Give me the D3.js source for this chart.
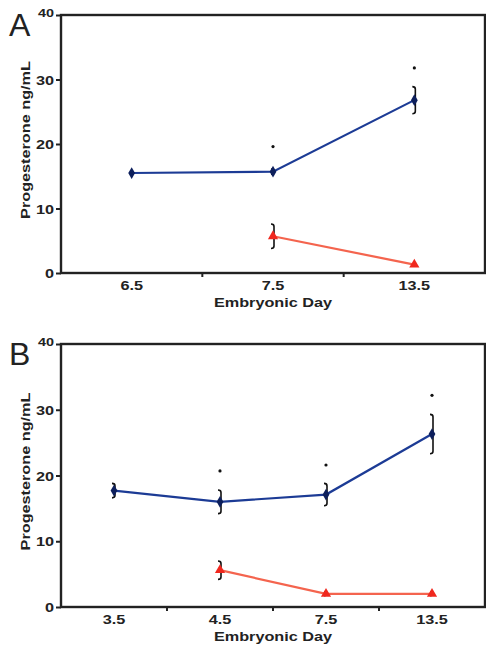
<!DOCTYPE html>
<html>
<head>
<meta charset="utf-8">
<script src="https://cdn.jsdelivr.net/npm/d3@7"></script>
<style>
  body { margin: 0; background: #fff; }
  svg { display: block; font-family: "Liberation Sans", Arial, sans-serif; }
</style>
</head>
<body>
<svg id="chart" width="486" height="648"></svg>
<script>
// Panel A
const daysA = ["6.5", "7.5", "13.5"];
const blueA = [15.5, 15.7, 26.8];
const blueErrA = [0, 0.4, 2.1];
const redA = [null, 5.7, 1.3];
const redErrA = [0, 1.9, 0];
const starsA = [null, 19.6, 31.8];

// Panel B
const daysB = ["3.5", "4.5", "7.5", "13.5"];
const blueB = [17.7, 16.0, 17.1, 26.3];
const blueErrB = [1.1, 1.8, 1.7, 3.0];
const redB = [null, 5.6, 2.0, 2.0];
const redErrB = [0, 1.4, 0.3, 0.3];
const starsB = [null, 20.7, 21.6, 32.2];

const yTicks = [0, 10, 20, 30, 40];

const svg = d3.select("#chart");
const SX = 1.25; // the original lettering is a bit wide

// bold label, stretched horizontally around its anchor
function label(g, x, y, txt, anchor, size, rot) {
  return g.append("text")
    .attr("transform", `translate(${x},${y})${rot ? " rotate(" + rot + ")" : ""} scale(${SX},1)`)
    .attr("text-anchor", anchor)
    .attr("font-size", size || 13)
    .attr("font-weight", "bold")
    .attr("fill", "#222")
    .text(txt);
}

function drawPanel(opts) {
  const { letter, days, blue, blueErr, red, redErr, stars, top, bottom } = opts;
  const left = 61, right = 485;

  const x = d3.scaleBand().domain(days).range([left, right]);
  const y = d3.scaleLinear().domain([0, 40]).range([bottom, top]);
  const cx = d => x(d) + x.bandwidth() / 2;

  const g = svg.append("g");

  // frame
  g.append("rect")
    .attr("x", left).attr("y", top)
    .attr("width", right - left).attr("height", bottom - top)
    .attr("fill", "none").attr("stroke", "#222").attr("stroke-width", 2.4);

  // y axis ticks + labels
  const yAxis = g.append("g")
    .attr("transform", `translate(${left},0)`)
    .call(d3.axisLeft(y).tickValues(yTicks).tickSize(5).tickFormat(""));
  yAxis.select(".domain").remove();
  yAxis.selectAll("line").attr("stroke", "#222").attr("stroke-width", 2);
  yTicks.forEach(t => {
    label(g, left - 7, y(t) + (t === 40 ? 2 : 5), t, "end", t === 40 ? 11.5 : 13);
  });

  // x axis: ticks at category boundaries, labels at centres
  const bounds = days.slice(1).map(d => x(d));
  g.selectAll(".xtick").data(bounds).join("line")
    .attr("x1", d => d).attr("x2", d => d)
    .attr("y1", bottom).attr("y2", bottom + 4)
    .attr("stroke", "#222").attr("stroke-width", 2);
  days.forEach(d => label(g, cx(d), bottom + 17, d, "middle", 13));

  label(g, (left + right) / 2, bottom + 34, "Embryonic Day", "middle", 13);
  label(g, 30, (top + bottom) / 2 - 4, "Progesterone ng/mL", "middle", 13, -90);

  g.append("text")
    .attr("x", 9).attr("y", top + 21)
    .attr("font-size", 32).attr("fill", "#222")
    .text(letter);

  // series
  const series = [
    { vals: blue, err: blueErr, color: "#1c3b95", mark: "#0d1f5c", sym: d3.symbolDiamond, size: 40 },
    { vals: red, err: redErr, color: "#f4644e", mark: "#f0281e", sym: d3.symbolTriangle, size: 45 }
  ];

  series.forEach(s => {
    const pts = days.map((d, i) => ({ d, v: s.vals[i], e: s.err[i] })).filter(p => p.v != null);

    g.append("path")
      .datum(pts)
      .attr("fill", "none")
      .attr("stroke", s.color)
      .attr("stroke-width", 2.2)
      .attr("d", d3.line().x(p => cx(p.d)).y(p => y(p.v)));

    // error brackets
    g.selectAll(null).data(pts.filter(p => p.e > 0)).join("path")
      .attr("fill", "none").attr("stroke", "#111").attr("stroke-width", 1.6)
      .attr("d", p => {
        const xx = cx(p.d) + 1, hi = y(p.v + p.e), lo = y(p.v - p.e);
        const path = d3.path();
        path.moveTo(xx - 3, hi);
        path.quadraticCurveTo(xx, hi, xx, hi + 2.5);
        path.lineTo(xx, lo - 2.5);
        path.quadraticCurveTo(xx, lo, xx - 3, lo);
        return path.toString();
      });

    g.selectAll(null).data(pts).join("path")
      .attr("transform", p => `translate(${cx(p.d)},${y(p.v)})`)
      .attr("fill", s.mark)
      .attr("d", d3.symbol().type(s.sym).size(s.size));
  });

  // significance marks
  g.selectAll(".star").data(days.map((d, i) => ({ d, v: stars[i] })).filter(p => p.v != null)).join("circle")
    .attr("cx", p => cx(p.d)).attr("cy", p => y(p.v))
    .attr("r", 1.6).attr("fill", "#111");
}

drawPanel({ letter: "A", days: daysA, blue: blueA, blueErr: blueErrA, red: redA, redErr: redErrA, stars: starsA, top: 15, bottom: 273 });
drawPanel({ letter: "B", days: daysB, blue: blueB, blueErr: blueErrB, red: redB, redErr: redErrB, stars: starsB, top: 344, bottom: 607 });
</script>
</body>
</html>
